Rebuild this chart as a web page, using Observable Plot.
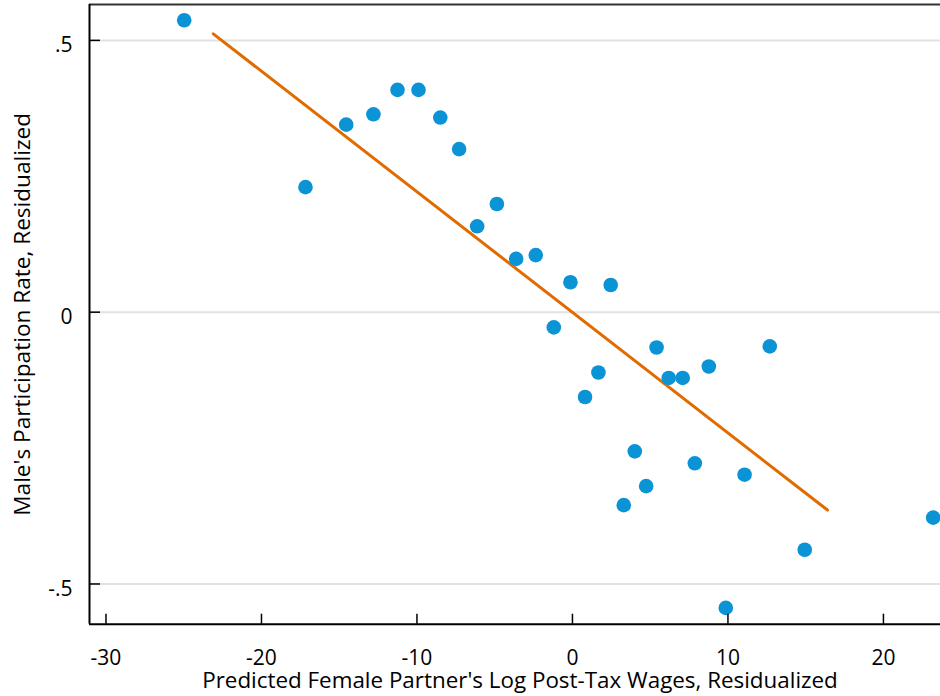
<!DOCTYPE html>
<html><head><meta charset="utf-8">
<script src="https://cdn.jsdelivr.net/npm/d3@7"></script>
<script src="https://cdn.jsdelivr.net/npm/@observablehq/plot@0.6"></script>
<style>body{margin:0;background:#fff;} svg{display:block;}</style>
</head><body><div id="chart"></div>
<script>
const xValues = [-24.97, -17.17, -14.55, -12.80, -11.25, -9.90, -8.50, -7.29, -4.86, -6.13, -3.62, -2.36, -0.13, -1.20, 2.46, 1.67, 0.81, 5.41, 6.19, 7.09, 8.77, 12.69, 4.01, 7.87, 3.30, 4.74, 11.07, 14.94, 9.86, 23.2];
const yValues = [0.537, 0.230, 0.345, 0.364, 0.409, 0.409, 0.358, 0.300, 0.199, 0.158, 0.098, 0.105, 0.055, -0.028, 0.050, -0.111, -0.156, -0.065, -0.121, -0.121, -0.100, -0.063, -0.256, -0.278, -0.355, -0.320, -0.299, -0.437, -0.544, -0.378];
const fitX = [-23.1, 16.4];
const fitY = [0.512, -0.364];
const xTicks = [-30, -20, -10, 0, 10, 20];
const xTickLabels = ["-30", "-20", "-10", "0", "10", "20"];
const yTicks = [-0.5, 0, 0.5];
const yTickLabels = ["-.5", "0", ".5"];
const xDomain = [-31.06, 23.67];
const yDomain = [-0.574, 0.566];
const xTitle = "Predicted Female Partner's Log Post-Tax Wages, Residualized";
const yTitle = "Male's Participation Rate, Residualized";

const points = xValues.map((x, i) => ({x, y: yValues[i]}));
const fit = fitX.map((x, i) => ({x, y: fitY[i]}));
const xLab = new Map(xTicks.map((t, i) => [t, xTickLabels[i]]));
const yLab = new Map(yTicks.map((t, i) => [t, yTickLabels[i]]));

const W = 940, H = 696, mL = 89, mT = 4, mB = 72.3, mR = 0;
const plotW = W - mL - mR, plotH = H - mT - mB;

const chart = Plot.plot({
  width: W, height: H,
  marginLeft: mL, marginTop: mT, marginBottom: mB, marginRight: mR,
  style: {fontFamily: "'Open Sans', sans-serif", fontSize: "21px", background: "#fff", color: "#000"},
  x: {domain: xDomain},
  y: {domain: yDomain},
  marks: [
    Plot.ruleY(yTicks, {y: d => d, stroke: "#e2e2e2", strokeWidth: 2}),
    Plot.line(fit, {x: "x", y: "y", stroke: "#e26b00", strokeWidth: 3}),
    Plot.dot(points, {x: "x", y: "y", r: 7.3, fill: "#0a93d5", stroke: "none"}),
    Plot.ruleY([yDomain[1]], {stroke: "#333", strokeWidth: 1.8}),
    Plot.ruleY([yDomain[0]], {stroke: "#000", strokeWidth: 2}),
    Plot.ruleX([xDomain[0]], {stroke: "#000", strokeWidth: 2}),
    Plot.tickX(xTicks, {x: d => d, insetTop: plotH - 10, stroke: "#000", strokeWidth: 1.5}),
    Plot.tickY(yTicks, {y: d => d, insetRight: plotW - 11, stroke: "#000", strokeWidth: 1.5}),
    Plot.axisX({ticks: xTicks, tickFormat: d => xLab.get(d), tickSize: 0, tickPadding: 26, fontSize: 21, label: null}),
    Plot.axisY({ticks: yTicks, tickFormat: d => yLab.get(d), tickSize: 0, tickPadding: 17, dy: 5, fontSize: 21, label: null}),
    Plot.text([xTitle], {text: d => d, frameAnchor: "bottom", textAnchor: "middle", lineAnchor: "bottom", dy: 64, dx: 5, fontSize: 22.4}),
    Plot.text([yTitle], {text: d => d, frameAnchor: "left", textAnchor: "middle", rotate: -90, lineAnchor: "middle", dx: -67, fontSize: 22.6})
  ]
});
document.getElementById("chart").appendChild(chart);
</script>
</body></html>
